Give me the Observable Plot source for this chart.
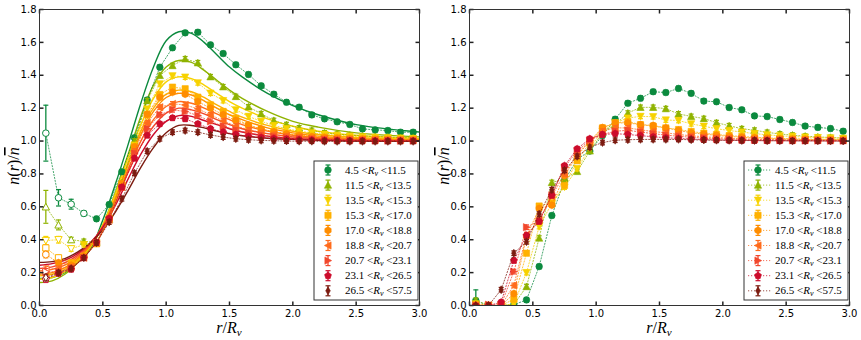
<!DOCTYPE html>
<html><head><meta charset="utf-8">
<script src="https://cdn.jsdelivr.net/npm/d3@7"></script>
<script src="https://cdn.jsdelivr.net/npm/@observablehq/plot@0.6"></script>
<style>
body{margin:0;background:#fff;}
#wrap{display:flex;width:861px;height:340px;overflow:hidden;}
</style></head><body><div id="wrap"></div>
<script>
// ---------- data ----------
const rBins = [0.05,0.15,0.25,0.35,0.45,0.55,0.65,0.75,0.85,0.95,1.05,1.15,1.25,1.35,1.45,1.55,1.65,1.75,1.85,1.95,2.05,2.15,2.25,2.35,2.45,2.55,2.65,2.75,2.85,2.95];
const rvLow  = ["4.5","11.5","13.5","15.3","17.0","18.8","20.7","23.1","26.5"];
const rvHigh = ["11.5","13.5","15.3","17.0","18.8","20.7","23.1","26.5","57.5"];
const seriesColors = ["#0b8a3e","#8fb300","#f7d200","#ffb100","#ff8d00","#ff6b1c","#f2472c","#cc0c2c","#7c1b10"];
const seriesMarkers = ["o","^","v","s","h","<",">","p","d"];
const openCount = [4,3,3,2,1,1,1,1,1];
const xTicks = [0,0.5,1,1.5,2,2.5,3];
const yTicks = [0,0.2,0.4,0.6,0.8,1.0,1.2,1.4,1.6,1.8];

// left panel: measured profiles
const left_4_5  = [1.048,0.655,0.616,0.560,0.527,0.614,0.813,1.020,1.250,1.449,1.567,1.658,1.662,1.585,1.532,1.464,1.405,1.336,1.285,1.236,1.206,1.159,1.135,1.117,1.101,1.074,1.068,1.064,1.054,1.054];
const left_11_5 = [0.600,0.490,0.400,0.390,0.385,0.525,0.745,1.000,1.245,1.399,1.459,1.500,1.476,1.391,1.330,1.271,1.208,1.166,1.125,1.100,1.080,1.065,1.050,1.042,1.036,1.031,1.027,1.024,1.021,1.019];
const left_13_5 = [0.395,0.400,0.345,0.370,0.380,0.520,0.730,0.975,1.195,1.348,1.397,1.389,1.354,1.291,1.246,1.190,1.150,1.120,1.095,1.075,1.060,1.050,1.041,1.035,1.030,1.026,1.022,1.020,1.018,1.016];
const left_15_3 = [0.350,0.290,0.260,0.300,0.375,0.530,0.740,0.965,1.160,1.283,1.328,1.318,1.267,1.220,1.180,1.139,1.095,1.072,1.058,1.046,1.037,1.030,1.025,1.021,1.018,1.015,1.013,1.012,1.011,1.010];
const left_17_0 = [0.310,0.260,0.245,0.300,0.380,0.530,0.740,0.965,1.163,1.265,1.297,1.285,1.240,1.200,1.160,1.125,1.097,1.074,1.056,1.043,1.033,1.026,1.021,1.017,1.014,1.012,1.010,1.009,1.008,1.008];
const left_18_8 = [0.220,0.225,0.235,0.290,0.380,0.520,0.720,0.940,1.110,1.206,1.226,1.220,1.196,1.160,1.122,1.092,1.068,1.051,1.039,1.030,1.023,1.018,1.014,1.011,1.009,1.008,1.007,1.006,1.005,1.005];
const left_20_7 = [0.205,0.205,0.225,0.290,0.380,0.520,0.715,0.925,1.075,1.160,1.190,1.180,1.155,1.120,1.090,1.066,1.049,1.036,1.027,1.020,1.015,1.011,1.009,1.007,1.005,1.004,1.003,1.003,1.002,1.002];
const left_23_1 = [0.160,0.195,0.220,0.290,0.385,0.530,0.720,0.895,1.035,1.105,1.141,1.135,1.105,1.075,1.055,1.040,1.029,1.021,1.015,1.011,1.008,1.006,1.004,1.003,1.002,1.002,1.001,1.001,1.001,1.001];
const left_26_5 = [0.170,0.200,0.225,0.290,0.381,0.507,0.649,0.805,0.938,1.014,1.054,1.064,1.054,1.037,1.024,1.014,1.008,1.004,1.002,1.000,0.999,0.999,0.998,0.998,0.998,0.998,0.998,0.998,0.998,0.998];

// right panel: measured profiles
const right_4_5  = [0.030,0.000,0.000,0.005,0.034,0.237,0.547,0.760,0.890,0.939,1.034,1.133,1.230,1.260,1.300,1.295,1.320,1.290,1.243,1.239,1.204,1.190,1.153,1.149,1.131,1.113,1.091,1.083,1.076,1.060];
const right_11_5 = [0.030,0.000,0.000,0.005,0.115,0.410,0.748,0.770,0.815,0.940,1.050,1.100,1.170,1.205,1.205,1.197,1.165,1.150,1.137,1.112,1.093,1.075,1.066,1.053,1.043,1.036,1.030,1.025,1.022,1.018];
const right_13_5 = [0.010,0.000,0.000,0.010,0.200,0.480,0.620,0.720,0.832,0.960,1.060,1.110,1.140,1.150,1.148,1.128,1.125,1.105,1.090,1.075,1.064,1.055,1.045,1.038,1.032,1.028,1.024,1.021,1.019,1.017];
const right_15_3 = [0.005,0.000,0.000,0.038,0.318,0.605,0.625,0.730,0.880,0.990,1.080,1.110,1.118,1.100,1.090,1.080,1.070,1.058,1.048,1.040,1.033,1.028,1.023,1.019,1.016,1.014,1.012,1.011,1.010,1.009];
const right_17_0 = [0.000,0.000,0.000,0.072,0.420,0.590,0.610,0.790,0.910,1.000,1.082,1.110,1.110,1.100,1.095,1.080,1.065,1.050,1.042,1.035,1.028,1.023,1.019,1.016,1.013,1.011,1.010,1.009,1.008,1.007];
const right_18_8 = [0.000,0.000,0.000,0.122,0.430,0.520,0.665,0.800,0.925,1.000,1.060,1.080,1.080,1.068,1.058,1.050,1.040,1.032,1.026,1.021,1.017,1.014,1.011,1.009,1.008,1.007,1.006,1.005,1.005,1.004];
const right_20_7 = [0.000,0.005,0.005,0.206,0.476,0.515,0.670,0.840,0.940,1.005,1.040,1.060,1.065,1.055,1.045,1.036,1.029,1.023,1.018,1.014,1.011,1.009,1.007,1.006,1.005,1.004,1.003,1.003,1.002,1.002];
const right_23_1 = [0.000,0.000,0.020,0.274,0.426,0.511,0.670,0.850,0.953,1.014,1.040,1.045,1.040,1.033,1.026,1.020,1.016,1.012,1.009,1.007,1.005,1.004,1.003,1.002,1.002,1.001,1.001,1.001,1.000,1.000];
const right_26_5 = [0.000,0.000,0.096,0.318,0.388,0.556,0.704,0.822,0.907,0.962,0.991,1.005,1.008,1.010,1.010,1.010,1.010,1.008,1.006,1.005,1.004,1.003,1.003,1.002,1.002,1.001,1.001,1.001,1.000,1.000];

// error bars: first bins listed, remaining bins use errTail
const errHeadLeft  = [[0.170,0.050,0.030,0.015],[0.100,0.030,0.015],[0.025,0.020,0.015],[0.020,0.015],[0.020,0.015],[0.020],[0.020],[0.020],[0.020]];
const errHeadRight = [[0.065,0.008],[0.015],[0.010],[0.010],[0.010],[0.010],[0.010],[0.010],[0.010]];
const errTail = 0.014;

// left panel: fitted profiles, read at fitR
const fitR = [0,0.1,0.2,0.3,0.4,0.5,0.6,0.7,0.8,0.9,1.0,1.1,1.2,1.3,1.4,1.5,1.6,1.8,2.0,2.2,2.5,3.0];
const fit_4_5  = [0.165,0.170,0.200,0.260,0.340,0.520,0.740,0.980,1.230,1.450,1.610,1.665,1.655,1.600,1.525,1.450,1.390,1.290,1.215,1.160,1.100,1.055];
const fit_11_5 = [0.140,0.150,0.190,0.260,0.350,0.490,0.690,0.920,1.150,1.340,1.450,1.490,1.478,1.430,1.370,1.310,1.260,1.180,1.120,1.085,1.050,1.025];
const fit_13_5 = [0.160,0.170,0.205,0.270,0.355,0.490,0.680,0.900,1.100,1.260,1.360,1.390,1.380,1.340,1.290,1.240,1.200,1.135,1.090,1.060,1.035,1.015];
const fit_15_3 = [0.180,0.190,0.220,0.280,0.360,0.480,0.660,0.870,1.060,1.200,1.285,1.310,1.300,1.265,1.220,1.180,1.145,1.095,1.060,1.040,1.022,1.010];
const fit_17_0 = [0.190,0.200,0.230,0.285,0.365,0.480,0.650,0.860,1.040,1.180,1.265,1.290,1.280,1.245,1.200,1.160,1.130,1.080,1.050,1.030,1.015,1.005];
const fit_18_8 = [0.210,0.220,0.245,0.295,0.370,0.480,0.640,0.830,1.000,1.130,1.210,1.240,1.230,1.200,1.165,1.130,1.100,1.060,1.035,1.020,1.010,1.003];
const fit_20_7 = [0.225,0.235,0.260,0.305,0.375,0.480,0.630,0.810,0.970,1.090,1.170,1.200,1.190,1.165,1.130,1.100,1.075,1.045,1.025,1.015,1.005,1.000];
const fit_23_1 = [0.245,0.255,0.275,0.315,0.380,0.475,0.610,0.770,0.920,1.040,1.120,1.155,1.150,1.125,1.100,1.075,1.055,1.030,1.015,1.008,1.003,1.000];
const fit_26_5 = [0.262,0.267,0.285,0.325,0.380,0.460,0.570,0.700,0.840,0.960,1.050,1.095,1.095,1.080,1.060,1.045,1.032,1.017,1.010,1.005,1.000,1.000];

const leftSeries  = [left_4_5,left_11_5,left_13_5,left_15_3,left_17_0,left_18_8,left_20_7,left_23_1,left_26_5];
const rightSeries = [right_4_5,right_11_5,right_13_5,right_15_3,right_17_0,right_18_8,right_20_7,right_23_1,right_26_5];
const fitSeries   = [fit_4_5,fit_11_5,fit_13_5,fit_15_3,fit_17_0,fit_18_8,fit_20_7,fit_23_1,fit_26_5];

// ---------- marker shapes ----------
const poly = pts => ({draw(ctx, size){const r=Math.sqrt(size/Math.PI); pts.forEach(([a,b],i)=> i?ctx.lineTo(a*r,b*r):ctx.moveTo(a*r,b*r)); ctx.closePath();}});
const regular = n => Array.from({length:n},(_,i)=>{const t=-Math.PI/2+2*Math.PI*i/n; return [Math.cos(t),Math.sin(t)];});
const SYM = {
  "o": {draw(ctx,size){const r=Math.sqrt(size/Math.PI); ctx.moveTo(r,0); ctx.arc(0,0,r,0,2*Math.PI); ctx.closePath();}},
  "^": poly([[0,-1.1],[1.1,0.95],[-1.1,0.95]]),
  "v": poly([[0,1.1],[1.1,-0.95],[-1.1,-0.95]]),
  "<": poly([[-1.1,0],[0.95,-1.1],[0.95,1.1]]),
  ">": poly([[1.1,0],[-0.95,-1.1],[-0.95,1.1]]),
  "s": poly([[-0.95,-0.95],[0.95,-0.95],[0.95,0.95],[-0.95,0.95]]),
  "h": poly(regular(6).map(([a,b])=>[a*1.1,b*1.1])),
  "p": poly(regular(5).map(([a,b])=>[a*1.1,b*1.1])),
  "d": poly([[0,-1.2],[0.7,0],[0,1.2],[-0.7,0]])
};
const capSym = {draw(ctx){ctx.moveTo(-2.5,0); ctx.lineTo(2.5,0);}};
const tickUp = {draw(ctx){ctx.moveTo(0,0); ctx.lineTo(0,-4);}};
const tickDown = {draw(ctx){ctx.moveTo(0,0); ctx.lineTo(0,4);}};
const tickRight = {draw(ctx){ctx.moveTo(0,0); ctx.lineTo(4,0);}};
const tickLeft = {draw(ctx){ctx.moveTo(0,0); ctx.lineTo(-4,0);}};
const MR = 3.3;

function makePanel(series, errHead, withFits, openCounts, width, marginRight) {
  const marks = [];
  if (withFits) {
    series.forEach((_, s) => {
      const fd = fitR.map((r,i)=>({r, v: fitSeries[s][i]}));
      marks.push(Plot.line(fd, {x:"r", y:"v", stroke: seriesColors[s], strokeWidth: 1.4, curve: "catmull-rom", clip: true}));
    });
  }
  series.forEach((vals, s) => {
    const col = seriesColors[s];
    const pts = rBins.map((r,i)=>({r, v: vals[i], err: errHead[s][i] ?? errTail, open: i < openCounts[s]}));
    marks.push(Plot.line(pts, {x:"r", y:"v", stroke: col, strokeWidth: 1, strokeDasharray: "1.2,1.8", strokeOpacity: 0.75, clip: true}));
    marks.push(Plot.ruleX(pts, {x:"r", y1: d=>d.v-d.err, y2: d=>d.v+d.err, stroke: col, strokeWidth: 1.3, clip: true}));
    marks.push(Plot.dot(pts, {x:"r", y: d=>d.v+d.err, symbol: capSym, r: 2, fill: "none", stroke: col, strokeWidth: 1.2, clip: true}));
    marks.push(Plot.dot(pts, {x:"r", y: d=>d.v-d.err, symbol: capSym, r: 2, fill: "none", stroke: col, strokeWidth: 1.2, clip: true}));
    marks.push(Plot.dot(pts.filter(d=>d.open), {x:"r", y:"v", symbol: SYM[seriesMarkers[s]], r: MR, fill: "white", stroke: col, strokeWidth: 1, clip: true}));
    marks.push(Plot.dot(pts.filter(d=>!d.open), {x:"r", y:"v", symbol: SYM[seriesMarkers[s]], r: MR, fill: col, stroke: col, strokeWidth: 0.6, clip: true}));
  });
  // inward ticks on all four sides
  marks.push(Plot.dot(xTicks, {x: d=>d, y: ()=>0, symbol: tickUp, r: 1, stroke: "#222", fill: "none"}));
  marks.push(Plot.dot(xTicks, {x: d=>d, y: ()=>1.8, symbol: tickDown, r: 1, stroke: "#222", fill: "none"}));
  marks.push(Plot.dot(yTicks, {x: ()=>0, y: d=>d, symbol: tickRight, r: 1, stroke: "#222", fill: "none"}));
  marks.push(Plot.dot(yTicks, {x: ()=>3, y: d=>d, symbol: tickLeft, r: 1, stroke: "#222", fill: "none"}));
  marks.push(Plot.frame({stroke: "#333", strokeWidth: 1}));

  const svg = Plot.plot({
    width, height: 340,
    marginLeft: 39, marginRight, marginTop: 9, marginBottom: 35,
    style: {fontFamily: "DejaVu Sans", fontSize: "10px", color: "#000", background: "white"},
    x: {domain: [0,3], ticks: xTicks, tickFormat: d3.format(".1f"), tickSize: 0, tickPadding: 4, label: null},
    y: {domain: [0,1.8], ticks: yTicks, tickFormat: d3.format(".1f"), tickSize: 0, tickPadding: 3, label: null},
    marks
  });

  const sel = d3.select(svg);
  // y label  n(r)/n̄
  const yl = sel.append("text").attr("transform","translate(19,166) rotate(-90)")
    .attr("text-anchor","middle").attr("font-family","Liberation Serif").attr("font-size",16);
  yl.append("tspan").attr("font-style","italic").text("n");
  yl.append("tspan").text("(");
  yl.append("tspan").attr("font-style","italic").text("r");
  yl.append("tspan").text(")/");
  yl.append("tspan").attr("font-style","italic").attr("text-decoration","overline").text("n");
  // x label r/R_v
  const xl = sel.append("text").attr("x", 39 + 190).attr("y", 333)
    .attr("text-anchor","middle").attr("font-family","Liberation Serif").attr("font-size",16);
  xl.append("tspan").attr("font-style","italic").text("r");
  xl.append("tspan").text("/");
  xl.append("tspan").attr("font-style","italic").text("R");
  xl.append("tspan").attr("font-style","italic").attr("font-size",11).attr("dy",3).text("v");

  // legend
  const lg = sel.append("g").attr("text-anchor","start");
  lg.append("rect").attr("x",314).attr("y",161).attr("width",104).attr("height",139)
    .attr("fill","white").attr("stroke","#333").attr("stroke-width",1);
  series.forEach((_, s) => {
    const y = 170 + s*15.1, col = seriesColors[s], mx = 328;
    if (!withFits) {
      lg.append("line").attr("x1",318).attr("x2",342).attr("y1",y).attr("y2",y)
        .attr("stroke",col).attr("stroke-width",1).attr("stroke-dasharray","1.2,1.8").attr("stroke-opacity",0.75);
    }
    lg.append("line").attr("x1",mx).attr("x2",mx).attr("y1",y-5).attr("y2",y+5).attr("stroke",col).attr("stroke-width",1.3);
    lg.append("line").attr("x1",mx-2.5).attr("x2",mx+2.5).attr("y1",y-5).attr("y2",y-5).attr("stroke",col).attr("stroke-width",1.2);
    lg.append("line").attr("x1",mx-2.5).attr("x2",mx+2.5).attr("y1",y+5).attr("y2",y+5).attr("stroke",col).attr("stroke-width",1.2);
    lg.append("path").attr("transform",`translate(${mx},${y})`)
      .attr("d", d3.symbol().type(SYM[seriesMarkers[s]]).size(Math.PI*MR*MR)())
      .attr("fill",col).attr("stroke",col).attr("stroke-width",0.6);
    const t = lg.append("text").attr("x",345).attr("y",y+3.5).attr("text-anchor","start")
      .attr("font-family","Liberation Serif").attr("font-size",11).attr("fill","#000");
    t.append("tspan").text(rvLow[s] + " <");
    t.append("tspan").attr("font-style","italic").text("R");
    t.append("tspan").attr("font-style","italic").attr("font-size",8).attr("dy",2).text("v");
    t.append("tspan").attr("dy",-2).text(" <" + rvHigh[s]);
  });
  return svg;
}

const wrap = document.getElementById("wrap");
wrap.appendChild(makePanel(leftSeries, errHeadLeft, true, openCount, 430, 11));
wrap.appendChild(makePanel(rightSeries, errHeadRight, false, rightSeries.map(()=>0), 431, 12));
</script>
</body></html>
